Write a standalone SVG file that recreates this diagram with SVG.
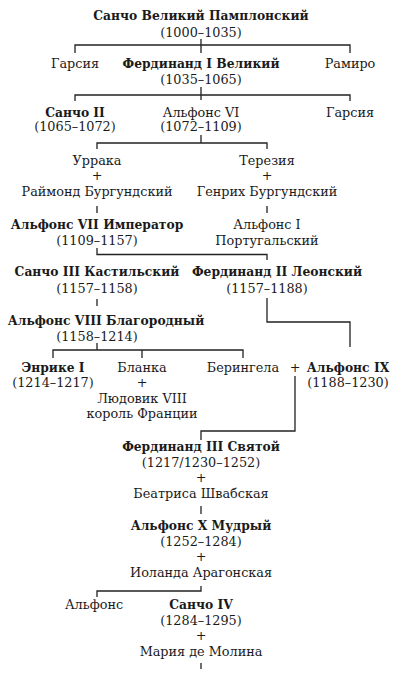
<svg xmlns="http://www.w3.org/2000/svg" width="402" height="680" viewBox="0 0 402 680">
<style>
text{font-family:"DejaVu Serif","Liberation Serif",serif;font-size:12.8px;fill:#1a1a1a;text-anchor:middle}
.b{font-weight:bold;font-size:12.3px}
.c path{fill:none;stroke:#222;stroke-width:1.3}
</style>
<rect width="402" height="680" fill="#fff"/>
<g class="c" id="connectors">
<path d="M201 39V53M75 53V45H350V53"/>
<path d="M201 87V100M75 101V95H350V101"/>
<path d="M201 135V143M97 149V143H267V149"/>
<path d="M97 206V213M267 206V213"/>
<path d="M97 248V254.5H267V260"/>
<path d="M97 299V306"/>
<path d="M267 298V322H350V347"/>
<path d="M97 343V350M53 358V350H243V358M142 350V358"/>
<path d="M295 376V431H201V440"/>
<path d="M201 506V514"/>
<path d="M201 586V591H97V597"/>
<path d="M201 663V669"/>
</g>
<g id="sancho-great"><text class="b" x="201" y="20">Санчо Великий Памплонский</text><text x="201" y="37">(1000–1035)</text></g>
<g id="garsia1"><text x="75" y="68">Гарсия</text></g>
<g id="fernando1"><text class="b" x="201" y="68">Фердинанд I Великий</text><text x="201" y="84">(1035–1065)</text></g>
<g id="ramiro"><text x="350" y="68">Рамиро</text></g>
<g id="sancho2"><text class="b" x="75" y="117">Санчо II</text><text x="75" y="131">(1065–1072)</text></g>
<g id="alfonso6"><text x="201" y="117">Альфонс VI</text><text x="201" y="131">(1072–1109)</text></g>
<g id="garsia2"><text x="350" y="117">Гарсия</text></g>
<g id="urraca"><text x="97" y="165">Уррака</text><text x="97" y="180">+</text><text x="97" y="196">Раймонд Бургундский</text></g>
<g id="teresa"><text x="267" y="165">Терезия</text><text x="267" y="180">+</text><text x="267" y="196">Генрих Бургундский</text></g>
<g id="alfonso7"><text class="b" x="97" y="229">Альфонс VII Император</text><text x="97" y="245">(1109–1157)</text></g>
<g id="alfonso1"><text x="267" y="229">Альфонс I</text><text x="267" y="245">Португальский</text></g>
<g id="sancho3"><text class="b" x="97" y="276">Санчо III Кастильский</text><text x="97" y="293">(1157–1158)</text></g>
<g id="fernando2"><text class="b" x="277" y="276">Фердинанд II Леонский</text><text x="267" y="293">(1157–1188)</text></g>
<g id="alfonso8"><text class="b" x="106" y="325">Альфонс VIII Благородный</text><text x="97" y="341">(1158–1214)</text></g>
<g id="enrique1"><text class="b" x="53" y="372">Энрике I</text><text x="53" y="387">(1214–1217)</text></g>
<g id="blanca"><text x="142" y="372">Бланка</text><text x="142" y="387">+</text><text x="142" y="403">Людовик VIII</text><text x="142" y="418">король Франции</text></g>
<g id="berengaria"><text x="243" y="372">Берингела</text></g>
<g id="marriage"><text x="295" y="372">+</text></g>
<g id="alfonso9"><text class="b" x="348" y="372">Альфонс IX</text><text x="348" y="387">(1188–1230)</text></g>
<g id="fernando3"><text class="b" x="201" y="451">Фердинанд III Святой</text><text x="201" y="467">(1217/1230–1252)</text><text x="201" y="482">+</text><text x="201" y="498">Беатриса Швабская</text></g>
<g id="alfonso10"><text class="b" x="201" y="530">Альфонс X Мудрый</text><text x="201" y="546">(1252–1284)</text><text x="201" y="561">+</text><text x="201" y="577">Иоланда Арагонская</text></g>
<g id="alfonso"><text x="94" y="609">Альфонс</text></g>
<g id="sancho4"><text class="b" x="201" y="609">Санчо IV</text><text x="201" y="625">(1284–1295)</text><text x="201" y="640">+</text><text x="201" y="656">Мария де Молина</text></g>
</svg>
